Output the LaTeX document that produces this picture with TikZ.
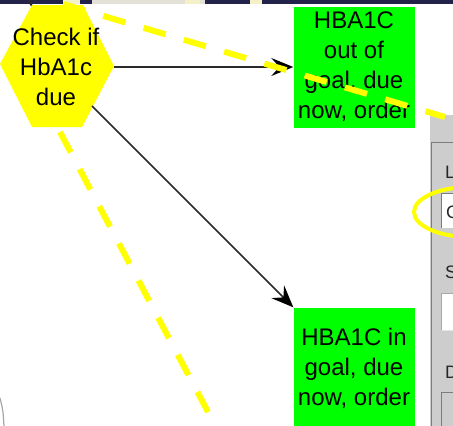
\documentclass[tikz,border=0pt]{standalone}
\usepackage{fontspec}
\setmainfont{Liberation Sans}
\usetikzlibrary{arrows.meta}
\definecolor{navy}{HTML}{22224A}
\definecolor{paleband}{HTML}{E4E1D6}
\definecolor{creamband}{HTML}{F4F0C8}
\definecolor{boxgreen}{HTML}{00FF00}
\definecolor{marker}{HTML}{FFFF00}
\definecolor{hexfill}{HTML}{FFFF00}
\definecolor{panelgray}{HTML}{CDCDCD}
\definecolor{framegray}{HTML}{7C7C7C}
\definecolor{lightframe}{HTML}{A8A8A8}
\definecolor{linkgray}{HTML}{2A2A2A}
\begin{document}
\begin{tikzpicture}[x=1pt,y=-1pt,
  taskbox/.style={fill=boxgreen, minimum width=121pt, minimum height=121pt,
    inner sep=0pt, align=center, font=\fontsize{24}{30}\selectfont},
  decision/.style={inner sep=0pt, align=center, font=\fontsize{24}{30}\selectfont},
  link/.style={draw=linkgray, line width=1.5pt,
    -{Stealth[length=22pt,width=18pt,inset=8pt,color=black]}},
  highlight/.style={draw=marker, line width=6pt, dash pattern=on 23pt off 19pt},
  paneltext/.style={anchor=base west, inner sep=0pt,
    font=\fontsize{18}{18}\selectfont, text=black!85}
]
\useasboundingbox (0,0) rectangle (453,426);
\clip (0,0) rectangle (453,426);
\fill[white] (0,0) rectangle (453,426);

% title strip along the top edge
\fill[navy] (0,0) rectangle (453,3.5);
\fill[creamband] (63,0) rectangle (80,3.5);
\fill[paleband] (92,0) rectangle (205,3.5);
\fill[creamband] (185,0) rectangle (200,3.5);
\fill[creamband] (250,0) rectangle (262,3.5);

% incoming edge at the top of the decision node
\draw[linkgray, line width=2pt] (28,0) -- (34,9);
% edge passing the lower left corner
\draw[gray!70, line width=1.2pt] (0,398) .. controls (3,410) .. (4,426);

% decision node (hexagon)
\fill[hexfill] (0,64) -- (32,5) -- (83,5) -- (114,66) -- (82,127) -- (32,127) -- cycle;
\node[decision] (chk) at (56,67) {Check if\\HbA1c\\due};
\coordinate (chkE) at (114,67);
\coordinate (chkSE) at (92,106);

% order tasks
\node[taskbox] (outgoal) at (354,67) {HBA1C\\out of\\goal, due\\now, order};
\node[taskbox] (ingoal) at (354,368) {HBA1C in\\goal, due\\now, order};

% connectors
\draw[link] (chkE) -- (outgoal.west);
\draw[link] (chkSE) -- (ingoal.north west);

% properties panel on the right
\fill[panelgray] (430,115) rectangle (453,426);
\draw[framegray, line width=1pt] (431.5,426) -- (431.5,142.5) -- (453,142.5);
\node[paneltext] (lblL) at (445,178) {L};
\fill[white] (441,193) rectangle (453,228);
\draw[framegray, line width=1pt] (441.5,228) -- (441.5,193.5) -- (453,193.5);
\node[paneltext] (valC) at (446,218) {C};
\node[paneltext] (lblS) at (445,278) {S};
\fill[white] (441,293) rectangle (453,330);
\draw[lightframe, line width=1pt] (441.5,330) -- (441.5,293.5) -- (453,293.5);
\draw[white!90!black, line width=1pt] (441.5,330.5) -- (453,330.5);
\node[paneltext] (lblD) at (445,378) {D};
\draw[framegray, line width=1pt] (441.5,426) -- (441.5,392.5) -- (453,392.5);

% yellow markings
\coordinate (m1a) at (63,4);
\coordinate (m1b) at (445,117);
\coordinate (m2a) at (60,132);
\coordinate (m2b) at (208,412);
\draw[highlight] (m1a) -- (m1b);
\draw[highlight] (m2a) -- (m2b);
\draw[marker, line width=4pt] (470,212) ellipse [x radius=56pt, y radius=25pt];
\end{tikzpicture}
\end{document}
